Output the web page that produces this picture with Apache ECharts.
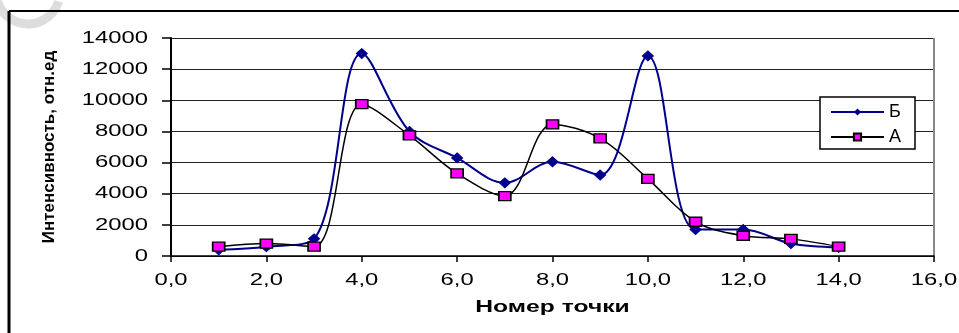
<!DOCTYPE html>
<html><head><meta charset="utf-8">
<script src="https://cdn.jsdelivr.net/npm/echarts@6/dist/echarts.min.js"></script>
<style>html,body{margin:0;padding:0;background:#fff}#c{width:959px;height:333px}</style>
</head><body><div id="c"></div>
<script>
const pointNumbers = [1,2,3,4,5,6,7,8,9,10,11,12,13,14];
const seriesB = [400,600,1100,13000,8000,6300,4700,6050,5200,12850,1700,1700,800,550];
const seriesA = [600,800,600,9750,7750,5300,3850,8450,7550,4950,2200,1300,1100,600];
const seriesNames = ['Б','А'];
const xTicks = [0,2,4,6,8,10,12,14,16];
const yTicks = [0,2000,4000,6000,8000,10000,12000,14000];
const xTitle = 'Номер точки';
const yTitle = 'Интенсивность, отн.ед';

const font = 'Liberation Sans, Arial, sans-serif';
const chart = echarts.init(document.getElementById('c'), null, {renderer:'canvas'});
chart.setOption({
  animation:false,
  backgroundColor:'#fff',
  grid:{left:171,right:25,top:38,bottom:77,containLabel:false},
  legend:{
    left:820, top:97, orient:'vertical', itemGap:7,
    backgroundColor:'#fff', borderColor:'#000', borderWidth:1.5, borderRadius:0,
    padding:[6,14,3,10],
    itemWidth:53, itemHeight:9,
    textStyle:{fontFamily:font,fontSize:18,color:'#000'},
    data:seriesNames
  },
  xAxis:{type:'value',min:0,max:16,interval:2,
    axisLine:{show:true,onZero:false,lineStyle:{color:'#000',width:1.5}},
    axisTick:{show:true,length:6,lineStyle:{color:'#000',width:1.5}},
    axisLabel:{show:false},
    splitLine:{show:false}},
  yAxis:{type:'value',min:0,max:14000,interval:2000,
    name:yTitle,nameLocation:'middle',nameGap:113,nameRotate:90,
    nameTextStyle:{fontFamily:font,fontSize:17,fontWeight:'bold',color:'#000'},
    axisLine:{show:true,lineStyle:{color:'#000',width:2}},
    axisTick:{show:true,length:9,lineStyle:{color:'#000',width:1.5}},
    axisLabel:{show:false},
    splitLine:{show:true,lineStyle:{color:'#222',width:1.2}}},
  series:[
    {name:seriesNames[0],type:'line',smooth:0.35,
      data:pointNumbers.map((x,i)=>[x,seriesB[i]]),
      symbol:'diamond',symbolSize:[11,10],
      lineStyle:{color:'#00008B',width:2},
      itemStyle:{color:'#00008B',borderColor:'#00008B'}},
    {name:seriesNames[1],type:'line',smooth:0.35,
      data:pointNumbers.map((x,i)=>[x,seriesA[i]]),
      symbol:'rect',symbolSize:[12,9],
      lineStyle:{color:'#000',width:1.5},
      itemStyle:{color:'#FF00FF',borderColor:'#000',borderWidth:1.5}}
  ]
});

// stretched horizontal texts (reference image is horizontally stretched)
const sx = 1.4;
const g = [
  {type:'line',shape:{x1:9,y1:11,x2:959,y2:11},style:{stroke:'#000',lineWidth:2}},
  {type:'line',shape:{x1:9,y1:11,x2:9,y2:333},style:{stroke:'#000',lineWidth:3}},
  {type:'line',shape:{x1:934,y1:38,x2:934,y2:256},style:{stroke:'#888',lineWidth:2}},
  {type:'arc',shape:{cx:28,cy:-8,r:32,startAngle:0.3,endAngle:2.9},style:{stroke:'#ddd',lineWidth:9,fill:null},z:-1}
];
yTicks.forEach(v=>{
  const py = chart.convertToPixel({yAxisIndex:0}, v);
  g.push({type:'text',x:148,y:py,scaleX:sx,originX:0,
    style:{text:String(v),align:'right',verticalAlign:'middle',font:'17px '+font,fill:'#000'}});
});
xTicks.forEach(v=>{
  const px = chart.convertToPixel({xAxisIndex:0}, v);
  g.push({type:'text',x:px,y:280,scaleX:sx,originX:0,
    style:{text:v.toFixed(1).replace('.',','),align:'center',verticalAlign:'middle',font:'17px '+font,fill:'#000'}});
});
const x0 = chart.convertToPixel({xAxisIndex:0}, 0), x1 = chart.convertToPixel({xAxisIndex:0}, 16);
g.push({type:'text',x:(x0+x1)/2,y:307,scaleX:1.45,originX:0,
  style:{text:xTitle,align:'center',verticalAlign:'middle',font:'bold 17px '+font,fill:'#000'}});
chart.setOption({graphic:g});
</script></body></html>
